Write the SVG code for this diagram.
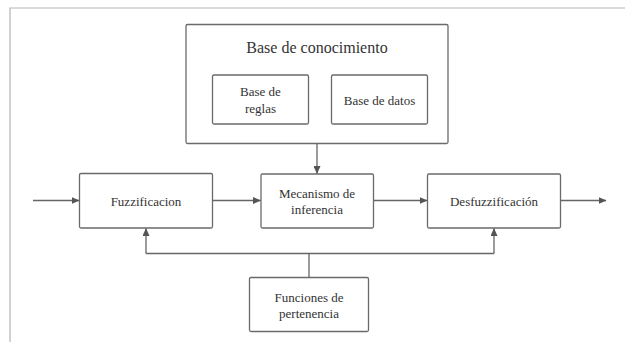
<svg xmlns="http://www.w3.org/2000/svg" width="625" height="342" viewBox="0 0 625 342" font-family="'Liberation Serif', 'DejaVu Serif', serif">
<defs>
<marker id="ah" markerWidth="8" markerHeight="7" refX="7.5" refY="3.5" orient="auto" markerUnits="userSpaceOnUse">
<path d="M0,0 L8,3.5 L0,7 Z" fill="#555"/>
</marker>
<style>
.box{fill:#fff;stroke:#6a6a6a;stroke-width:1.3}
.t{font-family:'Liberation Serif','DejaVu Serif',serif;font-size:13px;fill:#333;text-anchor:middle}
.title{font-size:16px}
.c{fill:none;stroke:#666;stroke-width:1.3}
</style>
</defs>
<rect width="625" height="342" fill="#fff"/>
<path d="M10,342 V8 H625" fill="none" stroke="#b5b5b5" stroke-width="1.2"/>
<g id="base-conocimiento">
<rect class="box" x="186" y="24.5" width="262" height="119" rx="1.5"/>
<text class="t title" x="317" y="52.5">Base de conocimiento</text>
</g>
<g id="base-reglas">
<rect class="box" x="212.5" y="75" width="96" height="49" rx="1.5"/>
<text class="t" x="260.5" y="96">Base de</text>
<text class="t" x="260.5" y="112.5">reglas</text>
</g>
<g id="base-datos">
<rect class="box" x="331.5" y="75" width="96" height="49" rx="1.5"/>
<text class="t" x="379.5" y="104.5">Base de datos</text>
</g>
<g id="fuzzificacion">
<rect class="box" x="79.5" y="173.5" width="133" height="54.5" rx="1.5"/>
<text class="t" x="146" y="205.5">Fuzzificacion</text>
</g>
<g id="mecanismo">
<rect class="box" x="261" y="174" width="112.5" height="54" rx="1.5"/>
<text class="t" x="317" y="198">Mecanismo de</text>
<text class="t" x="317" y="214">inferencia</text>
</g>
<g id="desfuzzificacion">
<rect class="box" x="427.5" y="174" width="133" height="54" rx="1.5"/>
<text class="t" x="494" y="205.5">Desfuzzificación</text>
</g>
<g id="funciones">
<rect class="box" x="249.5" y="277.5" width="119" height="54" rx="1.5"/>
<text class="t" x="309" y="302">Funciones de</text>
<text class="t" x="309" y="318">pertenencia</text>
</g>
<g id="connectors">
<path class="c" d="M33,200.5 H79" marker-end="url(#ah)"/>
<path class="c" d="M213,200.5 H260.5" marker-end="url(#ah)"/>
<path class="c" d="M374,200.5 H427" marker-end="url(#ah)"/>
<path class="c" d="M561,200.5 H606" marker-end="url(#ah)"/>
<path class="c" d="M317,143.5 V173.5" marker-end="url(#ah)"/>
<path class="c" d="M309,277.5 V253.5"/>
<path class="c" d="M146,253.5 H494"/>
<path class="c" d="M146,253.5 V228.5" marker-end="url(#ah)"/>
<path class="c" d="M494,253.5 V228.5" marker-end="url(#ah)"/>
</g>
</svg>
